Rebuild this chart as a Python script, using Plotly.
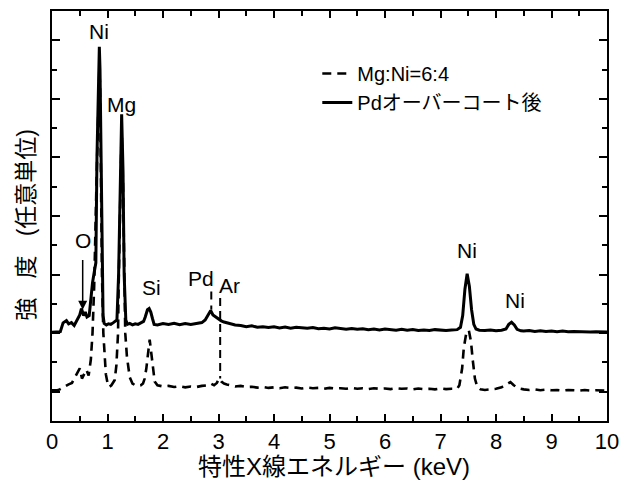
import plotly.graph_objects as go

# ---- data (energy in keV, intensity in arbitrary units) ----
series_names = ["Mg:Ni=6:4", "Pdオーバーコート後"]

energy_dashed = [0.00, 0.10, 0.14, 0.20, 0.30, 0.36, 0.42, 0.46, 0.50, 0.54, 0.58, 0.62, 0.66, 0.70,
                 0.73, 0.76, 0.80, 0.84, 0.853, 0.865, 0.88, 0.90, 0.925, 0.945, 0.97, 1.00, 1.03, 1.07,
                 1.10, 1.13, 1.16, 1.19, 1.20, 1.23, 1.255, 1.28, 1.30, 1.32, 1.35, 1.40, 1.45, 1.50,
                 1.55, 1.60, 1.64, 1.67, 1.70, 1.73, 1.76, 1.79, 1.82, 1.85, 1.90, 2.00, 2.10, 2.20,
                 2.30, 2.40, 2.50, 2.60, 2.70, 2.80, 2.86, 2.92, 2.97, 3.01, 3.05, 3.10, 3.15, 3.20,
                 3.30, 3.40, 3.50, 3.60, 3.70, 3.80, 3.90, 4.00, 4.10, 4.20, 4.30, 4.40, 4.50, 4.60,
                 4.70, 4.80, 4.90, 5.00, 5.10, 5.20, 5.30, 5.40, 5.50, 5.60, 5.70, 5.80, 5.90, 6.00,
                 6.10, 6.20, 6.30, 6.40, 6.50, 6.60, 6.70, 6.80, 6.90, 7.00, 7.10, 7.20, 7.30, 7.34,
                 7.39, 7.42, 7.46, 7.51, 7.55, 7.58, 7.62, 7.66, 7.72, 7.80, 7.90, 8.00, 8.10, 8.20,
                 8.26, 8.32, 8.40, 8.50, 8.60, 8.70, 8.80, 8.90, 9.00, 9.10, 9.20, 9.30, 9.40, 9.50,
                 9.60, 9.70, 9.80, 9.90, 10.00]
intensity_dashed = [1.05, 1.05, 1.08, 1.15, 1.25, 1.30, 1.50, 1.65, 1.80, 1.45, 1.60, 1.75, 1.55, 2.10,
                    3.00, 4.60, 8.00, 11.50, 12.00, 11.50, 8.50, 5.00, 3.00, 2.20, 1.60, 1.30, 1.16, 1.22,
                    1.30, 1.40, 1.90, 3.00, 4.50, 8.00, 10.00, 8.00, 4.80, 3.00, 2.20, 1.50, 1.28, 1.22,
                    1.20, 1.22, 1.28, 1.45, 1.80, 2.40, 2.78, 2.30, 1.70, 1.35, 1.22, 1.18, 1.20, 1.16,
                    1.19, 1.15, 1.18, 1.16, 1.20, 1.22, 1.28, 1.22, 1.30, 1.45, 1.35, 1.28, 1.25, 1.22,
                    1.18, 1.20, 1.16, 1.17, 1.14, 1.16, 1.13, 1.15, 1.12, 1.15, 1.13, 1.14, 1.11, 1.14,
                    1.12, 1.13, 1.10, 1.13, 1.11, 1.12, 1.10, 1.13, 1.10, 1.12, 1.09, 1.12, 1.10, 1.11,
                    1.09, 1.12, 1.10, 1.11, 1.08, 1.11, 1.09, 1.10, 1.08, 1.11, 1.09, 1.10, 1.10, 1.22,
                    1.80, 2.50, 2.95, 3.10, 2.70, 2.10, 1.45, 1.18, 1.08, 1.06, 1.08, 1.10, 1.15, 1.25,
                    1.33, 1.22, 1.12, 1.08, 1.06, 1.08, 1.05, 1.07, 1.05, 1.06, 1.04, 1.06, 1.05, 1.04,
                    1.06, 1.04, 1.05, 1.04, 1.04]

energy_solid = [0.00, 0.10, 0.15, 0.20, 0.26, 0.30, 0.35, 0.40, 0.45, 0.50, 0.53, 0.57, 0.60, 0.63,
                0.67, 0.70, 0.73, 0.76, 0.79, 0.81, 0.84, 0.853, 0.865, 0.88, 0.90, 0.92, 0.94, 0.98,
                1.02, 1.06, 1.10, 1.14, 1.17, 1.20, 1.23, 1.255, 1.28, 1.30, 1.33, 1.36, 1.40, 1.45,
                1.50, 1.55, 1.60, 1.65, 1.68, 1.72, 1.75, 1.78, 1.81, 1.84, 1.90, 2.00, 2.10, 2.20,
                2.30, 2.40, 2.50, 2.60, 2.70, 2.76, 2.82, 2.86, 2.90, 2.95, 3.00, 3.05, 3.10, 3.20,
                3.30, 3.40, 3.50, 3.60, 3.70, 3.80, 3.90, 4.00, 4.10, 4.20, 4.30, 4.40, 4.50, 4.60,
                4.70, 4.80, 4.90, 5.00, 5.10, 5.20, 5.30, 5.40, 5.50, 5.60, 5.70, 5.80, 5.90, 6.00,
                6.10, 6.20, 6.30, 6.40, 6.50, 6.60, 6.70, 6.80, 6.90, 7.00, 7.10, 7.20, 7.30, 7.36,
                7.40, 7.44, 7.48, 7.52, 7.56, 7.60, 7.64, 7.70, 7.80, 7.90, 8.00, 8.10, 8.18, 8.23,
                8.28, 8.33, 8.38, 8.45, 8.50, 8.60, 8.70, 8.80, 8.90, 9.00, 9.10, 9.20, 9.30, 9.40,
                9.50, 9.60, 9.70, 9.80, 9.90, 10.00]
intensity_solid = [3.03, 3.03, 3.05, 3.35, 3.43, 3.32, 3.36, 3.26, 3.45, 3.62, 3.84, 3.60, 3.72, 3.55,
                   3.60, 4.20, 4.72, 5.07, 5.40, 9.00, 12.00, 12.78, 12.00, 9.00, 5.00, 3.60, 3.33, 3.28,
                   3.32, 3.30, 3.35, 3.40, 3.45, 5.00, 8.50, 10.47, 8.50, 5.00, 3.45, 3.30, 3.33, 3.28,
                   3.32, 3.30, 3.35, 3.40, 3.55, 3.80, 3.84, 3.72, 3.50, 3.30, 3.28, 3.33, 3.30, 3.34,
                   3.29, 3.33, 3.30, 3.32, 3.36, 3.45, 3.65, 3.77, 3.62, 3.55, 3.50, 3.42, 3.38, 3.33,
                   3.28, 3.26, 3.22, 3.25, 3.20, 3.22, 3.19, 3.22, 3.18, 3.21, 3.17, 3.20, 3.18, 3.17,
                   3.19, 3.15, 3.17, 3.14, 3.18, 3.15, 3.13, 3.16, 3.13, 3.15, 3.12, 3.14, 3.11, 3.14,
                   3.12, 3.10, 3.13, 3.10, 3.12, 3.09, 3.11, 3.09, 3.12, 3.10, 3.09, 3.11, 3.12, 3.20,
                   3.60, 4.50, 5.03, 4.60, 3.80, 3.30, 3.14, 3.10, 3.09, 3.11, 3.08, 3.10, 3.14, 3.30,
                   3.37, 3.28, 3.13, 3.08, 3.07, 3.09, 3.06, 3.08, 3.06, 3.07, 3.05, 3.07, 3.05, 3.06,
                   3.05, 3.06, 3.04, 3.05, 3.04, 3.04]

x_tick_values = [0, 1, 2, 3, 4, 5, 6, 7, 8, 9, 10]
x_tick_labels = ["0", "1", "2", "3", "4", "5", "6", "7", "8", "9", "10"]
peak_names = ["Ni", "Mg", "O", "Si", "Pd", "Ar", "Ni", "Ni"]

# ---- style / layout ----
FONT = "Liberation Sans, Arial, Noto Sans CJK JP, sans-serif"
label_pos = [(0.85, 13.3), (1.255, 10.8), (0.556, 6.15), (1.79, 4.55),
             (2.68, 4.86), (3.20, 4.62), (7.48, 5.81), (8.35, 4.11)]

fig = go.Figure()
fig.add_trace(go.Scatter(x=energy_dashed, y=intensity_dashed, mode="lines", name=series_names[0],
                         line=dict(color="black", width=2.6, dash="9px,6px")))
fig.add_trace(go.Scatter(x=energy_solid, y=intensity_solid, mode="lines", name=series_names[1],
                         line=dict(color="black", width=3)))

annotations = []
for name, (px, py) in zip(peak_names, label_pos):
    annotations.append(dict(x=px, y=py, xref="x", yref="y", text=name, showarrow=False,
                            font=dict(family=FONT, size=21, color="black"),
                            xanchor="center", yanchor="middle"))
# arrow for O
annotations.append(dict(x=0.553, y=3.80, xref="x", yref="y", ax=0.553, ay=5.55, axref="x", ayref="y",
                        text="", showarrow=True, arrowhead=2, arrowsize=1.2, arrowwidth=1.5,
                        arrowcolor="black"))
# axis titles
annotations.append(dict(x=0.508, y=-0.112, xref="paper", yref="paper", text="特性X線エネルギー (keV)",
                        showarrow=False, font=dict(family=FONT, size=24, color="black"),
                        xanchor="center", yanchor="middle"))
annotations.append(dict(x=-0.046, y=0.48, xref="paper", yref="paper",
                        text="強\u00a0\u00a0\u00a0度\u00a0\u00a0\u00a0(任意単位)", textangle=-90,
                        showarrow=False, font=dict(family=FONT, size=23, color="black"),
                        xanchor="center", yanchor="middle"))

shapes = [
    dict(type="line", xref="x", yref="y", x0=2.87, x1=2.87, y0=4.42, y1=3.80,
         line=dict(color="black", width=2, dash="8px,6px")),
    dict(type="line", xref="x", yref="y", x0=3.03, x1=3.03, y0=4.20, y1=1.45,
         line=dict(color="black", width=2, dash="8px,5px")),
]

axis_common = dict(showline=True, linecolor="black", linewidth=2, mirror="ticks", ticks="inside",
                   tickcolor="black", tickwidth=1.5, showgrid=False, zeroline=False)

fig.update_layout(
    width=628, height=490,
    margin=dict(l=52, r=13, t=9, b=69),
    paper_bgcolor="white", plot_bgcolor="white",
    font=dict(family=FONT, size=20, color="black"),
    showlegend=True,
    legend=dict(x=0.478, y=0.895, xanchor="left", yanchor="top", bgcolor="rgba(0,0,0,0)",
                font=dict(family=FONT, size=20, color="black"), tracegroupgap=0,
                itemwidth=30),
    xaxis=dict(range=[0, 10], tickvals=x_tick_values, ticktext=x_tick_labels, ticklen=7,
               tickfont=dict(family=FONT, size=22, color="black"),
               minor=dict(dtick=0.5, tick0=0, ticklen=5, ticks="inside", tickcolor="black", tickwidth=1.5),
               **axis_common),
    yaxis=dict(range=[0, 14], tick0=1, dtick=2, ticklen=8, showticklabels=False,
               minor=dict(dtick=1, tick0=0, ticklen=5, ticks="inside", tickcolor="black", tickwidth=1.5),
               **axis_common),
    annotations=annotations,
    shapes=shapes,
)

fig.write_html("out.html")
